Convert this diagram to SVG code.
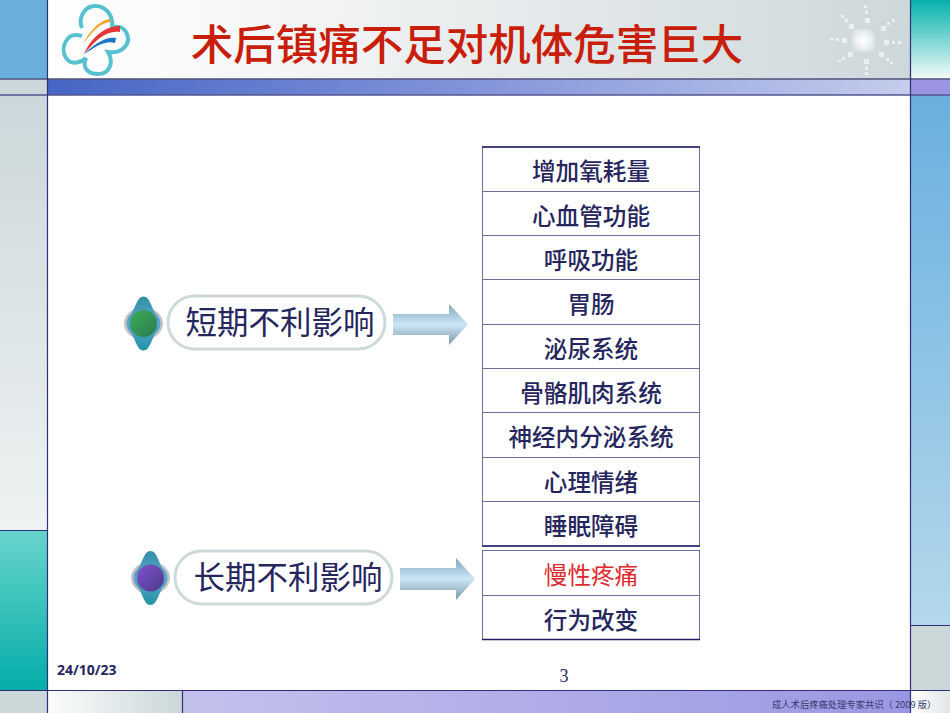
<svg xmlns="http://www.w3.org/2000/svg" width="950" height="713" viewBox="0 0 950 713">
<style>
.ln{stroke:#2f2f7a;stroke-width:1.2;fill:none}
.cell{fill:#fff;stroke:#6f6d9a;stroke-width:1}
.edge{stroke:#1f1f66;stroke-width:1.4;fill:none}
text{font-family:"Noto Sans CJK SC","Liberation Sans",sans-serif}
.t{font-size:23.600px;fill:#26265e;text-anchor:middle;font-weight:500}
.h{font-size:31.500px;fill:#26265e;text-anchor:middle}
.spark{fill:#fff;opacity:.6}
</style>
<defs>
<linearGradient id="topG" x1="0" x2="1" y1="0" y2="0"><stop offset="0" stop-color="#fff"/><stop offset=".35" stop-color="#f0f2f3"/><stop offset="1" stop-color="#cdd8da"/></linearGradient>
<linearGradient id="barG" x1="0" x2="1" y1="0" y2="0"><stop offset="0" stop-color="#4566c4"/><stop offset=".5" stop-color="#8494da"/><stop offset="1" stop-color="#c3cdec"/></linearGradient>
<linearGradient id="leftG" x1="0" x2="0" y1="0" y2="1"><stop offset="0" stop-color="#cbd7da"/><stop offset="1" stop-color="#eef2f2"/></linearGradient>
<linearGradient id="tealG" x1="0" x2="0" y1="0" y2="1"><stop offset="0" stop-color="#68d4cc"/><stop offset="1" stop-color="#04ada9"/></linearGradient>
<linearGradient id="tealR" x1="0" x2="0" y1="0" y2="1"><stop offset="0" stop-color="#04b0ac"/><stop offset="1" stop-color="#f2fbfa"/></linearGradient>
<linearGradient id="blueR" x1="0" x2="0" y1="0" y2="1"><stop offset="0" stop-color="#69afde"/><stop offset="1" stop-color="#b4d8ec"/></linearGradient>
<linearGradient id="botL" x1="0" x2="1" y1="0" y2="0"><stop offset="0" stop-color="#fbfcfc"/><stop offset="1" stop-color="#cbd7d8"/></linearGradient>
<linearGradient id="botB" x1="0" x2="1" y1="0" y2="0"><stop offset="0" stop-color="#c3c1ec"/><stop offset="1" stop-color="#9a97e2"/></linearGradient>
<linearGradient id="botW" x1="0" x2="1" y1="0" y2="0"><stop offset="0" stop-color="#fff"/><stop offset="1" stop-color="#e2e6e6"/></linearGradient>
<linearGradient id="arrow" x1="0" x2="0" y1="0" y2="1"><stop offset="0" stop-color="#7fa6bb"/><stop offset=".5" stop-color="#cce6f5"/><stop offset="1" stop-color="#7d98a8"/></linearGradient>
<linearGradient id="lens" x1="0" x2="0" y1="0" y2="1"><stop offset="0" stop-color="#2f8fa4"/><stop offset=".5" stop-color="#5da6d0"/><stop offset="1" stop-color="#1f93a2"/></linearGradient>
<linearGradient id="green" x1="0" x2="1" y1="0" y2="1"><stop offset="0" stop-color="#3ead55"/><stop offset="1" stop-color="#2a7a52"/></linearGradient>
<linearGradient id="purple" x1="0" x2="1" y1="0" y2="1"><stop offset="0" stop-color="#8052c8"/><stop offset="1" stop-color="#4a3a8c"/></linearGradient>
<radialGradient id="glow"><stop offset="0" stop-color="#fff"/><stop offset=".6" stop-color="#eef2f3"/><stop offset="1" stop-color="#dbe4e5"/></radialGradient>
<path id="eye" d="M0-27C7-27 8-14 13-9C16-6 17-3 17 0C17 3 16 6 13 9C8 14 7 27 0 27C-7 27-8 14-13 9C-16 6-17 3-17 0C-17-3-16-6-13-9C-8-14-7-27 0-27Z"/>
</defs>

<g id="background">
<rect width="950" height="713" fill="#fff"/>
<rect x="47" y="0" width="864" height="79" fill="url(#topG)"/>
<rect x="0" y="0" width="47" height="79" fill="#69afde"/>
<rect x="0" y="79" width="47" height="16" fill="#cbd7da"/>
<rect x="0" y="95" width="47" height="435" fill="url(#leftG)"/>
<rect x="0" y="530" width="47" height="160" fill="url(#tealG)"/>
<rect x="0" y="690" width="47" height="23" fill="#cbd7d8"/>
<rect x="47" y="79" width="864" height="16" fill="url(#barG)"/>
<rect x="911" y="0" width="39" height="79" fill="url(#tealR)"/>
<rect x="911" y="79" width="39" height="16" fill="#9a94e2"/>
<rect x="911" y="95" width="39" height="530" fill="url(#blueR)"/>
<rect x="911" y="625" width="39" height="65" fill="#cbd7d8"/>
<rect x="911" y="690" width="39" height="23" fill="url(#botW)"/>
<rect x="47" y="690" width="135" height="23" fill="url(#botL)"/>
<rect x="182" y="690" width="729" height="23" fill="url(#botB)"/>
<path d="M0 79H950" stroke="#50507a" stroke-width="1.4"/>
<path d="M0 95H950" stroke="#55558f" stroke-width="1.4"/>
<path class="ln" d="M47.500 0V713M910.500 0V713M0 690.500H950M182.500 690V713M0 530.500H47M911 625.500H950"/>
</g>

<g id="logo" fill="none">
<path d="M82 36C66 31 60 48 66 58C71 66 82 62 86 58C82 68 88 74 98 74C110 74 114 62 108 52C124 54 132 42 126 32C122 26 116 26 112 28C114 14 104 5 94 6C84 7 78 18 82 28" stroke="#57c1cf" stroke-width="4"/>
<path d="M83 44C90 30 100 20 110 19L110 22C100 23 92 32 83 44Z" fill="#f0a72d"/>
<path d="M84 54C92 36 106 26 120 26L120 32C106 30 96 40 84 54Z" fill="#e4373a"/>
<path d="M83 55C94 44 106 36 116 38L115 43C106 40 96 46 83 55Z" fill="#1c74c4"/>
</g>

<g id="sparkle">
<rect x="852" y="29" width="23" height="23" rx="6" fill="url(#glow)"/>
<g class="spark">
<rect x="864" y="5" width="3" height="3"/><rect x="865" y="11" width="3" height="3"/><rect x="865" y="18" width="5" height="5"/>
<rect x="841" y="15" width="3" height="3"/><rect x="845" y="19" width="3" height="3"/><rect x="849" y="24" width="5" height="5"/>
<rect x="892" y="19" width="3" height="3"/><rect x="887" y="22" width="3" height="3"/><rect x="881" y="26" width="5" height="5"/>
<rect x="830" y="38" width="3" height="2"/><rect x="836" y="38" width="3" height="3"/><rect x="842" y="38" width="5" height="5"/>
<rect x="898" y="41" width="3" height="3"/><rect x="892" y="41" width="3" height="3"/><rect x="884" y="40" width="5" height="5"/>
<rect x="848" y="52" width="5" height="5"/><rect x="842" y="57" width="3" height="3"/><rect x="838" y="60" width="3" height="2"/>
<rect x="879" y="52" width="5" height="5"/><rect x="886" y="58" width="3" height="3"/><rect x="890" y="62" width="3" height="2"/>
<rect x="864" y="59" width="5" height="5"/><rect x="865" y="67" width="3" height="3"/><rect x="865" y="72" width="3" height="3"/>
</g>
</g>

<g id="title">
<text x="467" y="60" font-weight="500" fill="#c81e0a" text-anchor="middle" style="font-size:42.500px">术后镇痛不足对机体危害巨大</text>
</g>

<g id="short-term">
<ellipse cx="143.500" cy="323.500" rx="18" ry="15" fill="none" stroke="#c4c4c4" stroke-width="3"/>
<use href="#eye" x="143.500" y="323.500" fill="url(#lens)"/>
<circle cx="143.500" cy="323.500" r="13.500" fill="url(#green)"/>
<rect x="168" y="296" width="217" height="53" rx="26.500" fill="#fff" stroke="#cdd9da" stroke-width="3"/>
<text class="h" x="280" y="334">短期不利影响</text>
</g>

<g id="long-term">
<ellipse cx="150.500" cy="578" rx="18" ry="15" fill="none" stroke="#c4c4c4" stroke-width="3"/>
<use href="#eye" x="150.500" y="578" fill="url(#lens)"/>
<circle cx="150.500" cy="578" r="13.500" fill="url(#purple)"/>
<rect x="175" y="551" width="217" height="53" rx="26.500" fill="#fff" stroke="#cdd9da" stroke-width="3"/>
<text class="h" x="288" y="589">长期不利影响</text>
</g>

<g id="connectors">
<path d="M393 314H449V304L468 324.500L449 345V335H393Z" fill="url(#arrow)"/>
<path d="M400 568H456V558L475 579L456 600V590H400Z" fill="url(#arrow)"/>
</g>

<g id="table-short">
<rect class="cell" x="482.500" y="147" width="217" height="399"/>
<path class="cell" d="M482.500 191.500H699.500M482.500 235.500H699.500M482.500 279.500H699.500M482.500 324.500H699.500M482.500 368.500H699.500M482.500 412.500H699.500M482.500 457.500H699.500M482.500 501.500H699.500"/>
<path class="edge" d="M482 147H700M482 546H700"/>
<text class="t" x="591" y="180">增加氧耗量</text>
<text class="t" x="591" y="225">心血管功能</text>
<text class="t" x="591" y="269">呼吸功能</text>
<text class="t" x="591" y="313">胃肠</text>
<text class="t" x="591" y="358">泌尿系统</text>
<text class="t" x="591" y="402">骨骼肌肉系统</text>
<text class="t" x="591" y="446">神经内分泌系统</text>
<text class="t" x="591" y="491">心理情绪</text>
<text class="t" x="591" y="535">睡眠障碍</text>
</g>

<g id="table-long">
<rect class="cell" x="482.500" y="550.500" width="217" height="89"/>
<path class="cell" d="M482.500 595.500H699.500"/>
<path class="edge" d="M482 639.500H700"/>
<text class="t" x="591" y="584" style="fill:#e0292e;font-weight:400">慢性疼痛</text>
<text class="t" x="591" y="629">行为改变</text>
</g>

<g id="footer">
<text x="57" y="675" font-size="14" font-weight="700" fill="#26265e" style="font-family:'Open Sans','Liberation Sans',sans-serif">24/10/23</text>
<text x="564" y="682" font-size="18" fill="#26265e" text-anchor="middle" style="font-family:'Liberation Serif',serif">3</text>
<text x="772" y="708" font-size="9.300" fill="#3a3a72">成人术后疼痛处理专家共识（ 2009 版）</text>
</g>
</svg>
